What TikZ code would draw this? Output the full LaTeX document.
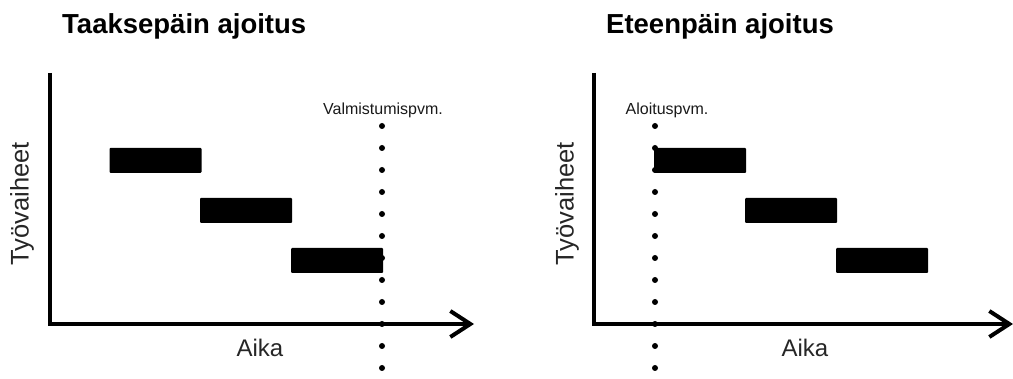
\documentclass[tikz,border=0pt]{standalone}
\usepackage{fontspec}
\setmainfont{Liberation Sans}
\usetikzlibrary{arrows.meta}
\tikzset{
  title/.style={font=\fontsize{27.5}{32}\selectfont\bfseries, text=black, inner sep=0pt},
  axislabel/.style={font=\fontsize{24}{28}\selectfont, text=black!85, inner sep=0pt},
  sidelabel/.style={font=\fontsize{25.5}{30}\selectfont, text=black!85, inner sep=0pt},
  datelabel/.style={font=\fontsize{16}{18}\selectfont, text=black!90, inner sep=0pt},
  axis/.style={line width=4pt, -{Straight Barb[length=20pt,width=26pt,line width=4pt]}},
  yaxis/.style={line width=4pt},
  bar/.style={fill=black, draw=none, minimum width=92pt, minimum height=25pt, inner sep=0pt, rounded corners=1pt},
  dotline/.style={line width=6pt, line cap=round, dash pattern=on 0pt off 22pt}
}
\begin{document}
\begin{tikzpicture}[x=1pt,y=-1pt]
\useasboundingbox (0,0) rectangle (1013,379);

% ---- Taaksepäin ajoitus ----
\node[title, anchor=west] (t1) at (62,26) {Taaksepäin ajoitus};
\coordinate (o1) at (50,324);
\coordinate (ytop1) at (50,73);
\coordinate (xend1) at (474,324);
\draw[yaxis] (ytop1) -- (o1);
\draw[axis] ([xshift=-2pt]o1) -- (xend1);
\node[sidelabel, rotate=90] (y1) at (22,204) {Työvaiheet};
\node[axislabel] (x1) at (260,348) {Aika};
\coordinate (d1top) at (382,126);
\coordinate (d1bot) at (382,371);
\draw[dotline] (d1top) -- (d1bot);
\node[datelabel] (l1) at (383,110) {Valmistumispvm.};
\node[bar] (a1) at (155.5,160.5) {};
\node[bar] (b1) at (246,210.5) {};
\node[bar] (c1) at (337,260.5) {};

% ---- Eteenpäin ajoitus ----
\node[title, anchor=west] (t2) at (606,26) {Eteenpäin ajoitus};
\coordinate (o2) at (594,324);
\coordinate (ytop2) at (594,73);
\coordinate (xend2) at (1013,324);
\draw[yaxis] (ytop2) -- (o2);
\draw[axis] ([xshift=-2pt]o2) -- (xend2);
\node[sidelabel, rotate=90] (y2) at (567,204) {Työvaiheet};
\node[axislabel] (x2) at (805,348) {Aika};
\coordinate (d2top) at (655,126);
\coordinate (d2bot) at (655,371);
\draw[dotline] (d2top) -- (d2bot);
\node[datelabel] (l2) at (667,110) {Aloituspvm.};
\node[bar] (a2) at (700,160.5) {};
\node[bar] (b2) at (791,210.5) {};
\node[bar] (c2) at (882,260.5) {};
\end{tikzpicture}
\end{document}
